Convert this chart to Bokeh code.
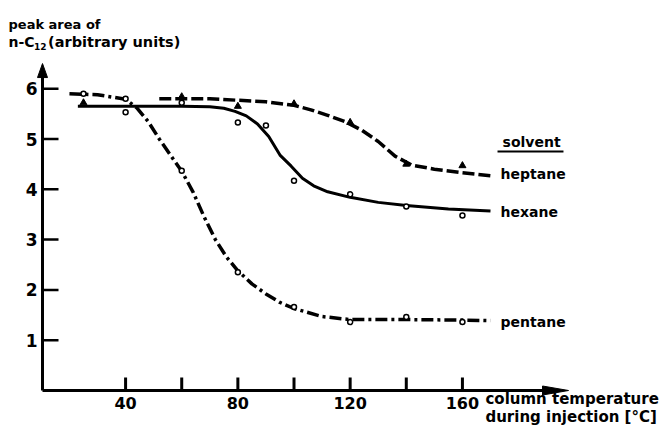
from bokeh.plotting import figure
from bokeh.models import Range1d
from bokeh.core.properties import value
from bokeh.embed import file_html
from bokeh.resources import INLINE

# ---- data ----
pentane_curve_t = [20, 30, 40, 44, 48, 52, 56, 60, 64, 68, 72, 76, 80, 85, 90, 95, 100, 110, 120, 140, 160, 170]
pentane_curve_v = [5.9, 5.88, 5.79, 5.62, 5.35, 5.0, 4.68, 4.36, 3.95, 3.45, 3.0, 2.65, 2.38, 2.12, 1.92, 1.75, 1.63, 1.47, 1.41, 1.41, 1.40, 1.39]
hexane_curve_t = [23, 40, 60, 70, 75, 79, 83, 87, 91, 95, 99, 103, 107, 112, 120, 130, 140, 155, 170]
hexane_curve_v = [5.65, 5.65, 5.65, 5.64, 5.61, 5.55, 5.46, 5.3, 5.05, 4.68, 4.46, 4.22, 4.07, 3.95, 3.84, 3.74, 3.68, 3.61, 3.57]
heptane_curve_t = [52, 60, 70, 80, 90, 100, 106, 112, 118, 124, 130, 136, 142, 150, 160, 170]
heptane_curve_v = [5.8, 5.8, 5.8, 5.77, 5.74, 5.67, 5.58, 5.47, 5.35, 5.18, 4.95, 4.66, 4.48, 4.40, 4.33, 4.27]

pentane_pt_t = [25, 40, 60, 80, 100, 120, 140, 160]
pentane_pt_v = [5.9, 5.8, 4.37, 2.35, 1.66, 1.36, 1.46, 1.36]
hexane_pt_t = [40, 60, 80, 90, 100, 120, 140, 160]
hexane_pt_v = [5.53, 5.72, 5.33, 5.27, 4.17, 3.90, 3.66, 3.48]
heptane_pt_t = [25, 60, 80, 100, 120, 140, 160]
heptane_pt_v = [5.72, 5.84, 5.65, 5.70, 5.33, 4.50, 4.47]

x_ticks = [40, 60, 80, 100, 120, 140, 160]
x_tick_labels = ["40", "", "80", "", "120", "", "160"]
y_ticks = [1, 2, 3, 4, 5, 6]
y_tick_labels = ["1", "2", "3", "4", "5", "6"]

solvent_names = ["heptane", "hexane", "pentane"]
solvent_label_v = [4.31, 3.54, 1.37]

# ---- layout (data units of the chart) ----
FONT = value("DejaVu Sans")
W, H = 667, 435
X_AXIS_AT, X_END = 10.4, 197.8     # y axis sits at 10.4 degC, x arrow tip
Y_END = 6.5                         # y arrow tip
PX_X = 2.807                        # pixels per degC
PX_Y = 50.3                         # pixels per unit
x_lo = X_AXIS_AT - 42 / PX_X
y_hi = 390 / PX_Y

p = figure(width=W, height=H, output_backend="svg", toolbar_location=None,
           x_range=Range1d(x_lo, x_lo + W / PX_X), y_range=Range1d(y_hi - H / PX_Y, y_hi),
           x_axis_type=None, y_axis_type=None, min_border=0)
p.grid.visible = False
p.outline_line_color = None
p.background_fill_color = "white"
p.border_fill_color = "white"

# axes lines
p.segment(x0=[X_AXIS_AT, X_AXIS_AT], y0=[0, 0], x1=[X_END - 10 / PX_X, X_AXIS_AT], y1=[0, Y_END - 8 / PX_Y],
          line_color="black", line_width=3)
# arrow heads
p.patch([X_END, X_END - 26 / PX_X, X_END - 26 / PX_X], [0, 4.5 / PX_Y, -4.5 / PX_Y], color="black")
p.patch([X_AXIS_AT, X_AXIS_AT - 5 / PX_X, X_AXIS_AT + 5 / PX_X], [Y_END, Y_END - 14 / PX_Y, Y_END - 14 / PX_Y], color="black")

# ticks (pointing inward)
p.segment(x0=x_ticks, y0=[0] * len(x_ticks), x1=x_ticks, y1=[13 / PX_Y] * len(x_ticks), line_color="black", line_width=3)
p.segment(x0=[X_AXIS_AT] * len(y_ticks), y0=y_ticks, x1=[X_AXIS_AT + 16 / PX_X] * len(y_ticks), y1=y_ticks,
          line_color="black", line_width=2.5)
# tick labels
p.text(x=x_ticks, y=[-6 / PX_Y] * len(x_ticks), text=x_tick_labels, text_font=FONT, text_font_style="bold",
       text_font_size="16px", text_align="center", text_baseline="top", text_color="black")
p.text(x=[X_AXIS_AT - 5 / PX_X] * len(y_ticks), y=y_ticks, text=y_tick_labels, text_font=FONT, text_font_style="bold",
       text_font_size="17px", text_align="right", text_baseline="middle", text_color="black")

# curves
p.line(pentane_curve_t, pentane_curve_v, line_color="black", line_width=3.5, line_dash="12 4 3 4")
p.line(hexane_curve_t, hexane_curve_v, line_color="black", line_width=3)
p.line(heptane_curve_t, heptane_curve_v, line_color="black", line_width=3.5, line_dash="12 4")

# measured points
p.scatter(pentane_pt_t, pentane_pt_v, marker="circle", size=5, line_color="black", line_width=1.5, fill_color="white")
p.scatter(hexane_pt_t, hexane_pt_v, marker="circle", size=5, line_color="black", line_width=1.5, fill_color="white")
p.scatter(heptane_pt_t, heptane_pt_v, marker="triangle", size=7, line_color="black", line_width=1, fill_color="black")

# solvent labels
p.text(x=[173.6] * 3, y=solvent_label_v, text=solvent_names, text_font=FONT, text_font_style="bold",
       text_font_size="14px", text_baseline="middle", text_align="left", text_color="black")
p.text(x=[174.3], y=[4.95], text=["solvent"], text_font=FONT, text_font_style="bold",
       text_font_size="14px", text_baseline="middle", text_align="left", text_color="black")
p.segment(x0=[172.5], y0=[4.75], x1=[196.0], y1=[4.75], line_color="black", line_width=2)

# y-axis title
p.text(x=[-1.7], y=[7.28], text=["peak area of"], text_font=FONT, text_font_style="bold",
       text_font_size="13px", text_baseline="alphabetic", text_color="black")
p.text(x=[-1.7], y=[6.93], text=["n-C"], text_font=FONT, text_font_style="bold",
       text_font_size="14px", text_baseline="alphabetic", text_color="black")
p.text(x=[7.4], y=[6.84], text=["12"], text_font=FONT, text_font_style="bold",
       text_font_size="9px", text_baseline="alphabetic", text_color="black")
p.text(x=[12.4], y=[6.93], text=["(arbitrary units)"], text_font=FONT, text_font_style="bold",
       text_font_size="14.5px", text_baseline="alphabetic", text_color="black")

# x-axis title
p.text(x=[168.2, 168.2], y=[-0.16, -0.52], text=["column temperature", "during injection [°C]"],
       text_font=FONT, text_font_style="bold", text_font_size="15px", text_baseline="alphabetic",
       text_color="black")

open("out.html", "w").write(file_html(p, INLINE))
